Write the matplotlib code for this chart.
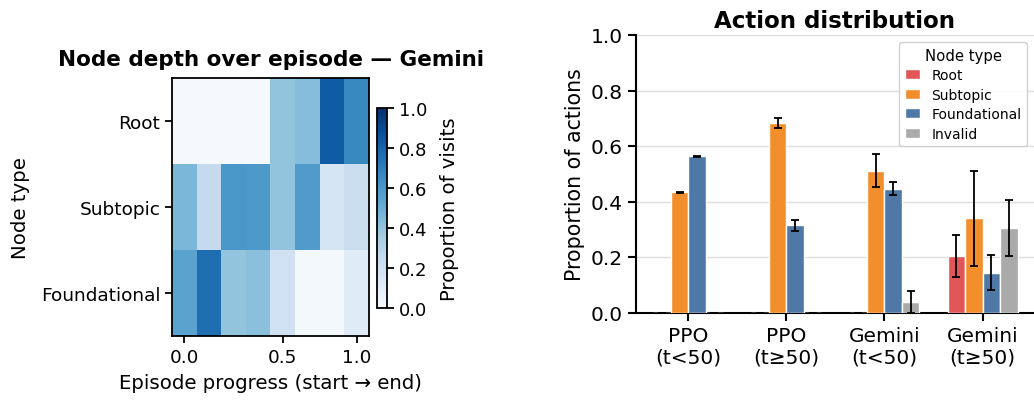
import numpy as np
import matplotlib
matplotlib.use("Agg")
from matplotlib import pyplot as plt

# heatmap data: share of visits per node type in each episode bin
node_types = ["Root", "Subtopic", "Foundational"]
root_row = [0.01, 0.01, 0.01, 0.01, 0.40, 0.43, 0.83, 0.66]
subtopic_row = [0.46, 0.25, 0.60, 0.59, 0.40, 0.58, 0.17, 0.22]
foundational_row = [0.55, 0.76, 0.40, 0.42, 0.20, 0.02, 0.02, 0.12]
progress_labels = ["0.0", "0.5", "1.0"]

# action distribution data
groups = ["PPO\n(t<50)", "PPO\n(t≥50)", "Gemini\n(t<50)", "Gemini\n(t≥50)"]
series = ["Root", "Subtopic", "Foundational", "Invalid"]
root_mean = [0.0, 0.0, 0.0, 0.204]
root_err = [0.0, 0.0, 0.0, 0.076]
subtopic_mean = [0.434, 0.683, 0.511, 0.339]
subtopic_err = [0.002, 0.019, 0.059, 0.170]
found_mean = [0.563, 0.314, 0.446, 0.144]
found_err = [0.002, 0.019, 0.023, 0.064]
invalid_mean = [0.0, 0.0, 0.038, 0.305]
invalid_err = [0.0, 0.0, 0.040, 0.100]

colors = ["#e15759", "#f28e2b", "#4e79a7", "#aaaaaa"]

W, H = 1034, 402
fig = plt.figure(figsize=(W / 100, H / 100), dpi=100)

# ---- left: heatmap
ax1 = fig.add_axes([172 / W, (H - 337) / H, 197 / W, 258 / H])
heat = np.array([root_row, subtopic_row, foundational_row])
im = ax1.imshow(heat, cmap="Blues", vmin=0, vmax=1, aspect="auto")
ax1.set_xticks([0, 4, 7])
ax1.set_xticklabels(progress_labels, fontsize=13.3)
ax1.set_yticks(range(len(node_types)))
ax1.set_yticklabels(node_types, fontsize=13.3)
ax1.set_xlabel("Episode progress (start → end)", fontsize=14.2, labelpad=5)
ax1.set_ylabel("Node type", fontsize=14.2, labelpad=8)
ax1.set_title("Node depth over episode — Gemini", fontsize=15.5, fontweight="bold", pad=9)
for s in ax1.spines.values():
    s.set_linewidth(1.3)
ax1.tick_params(width=1.3, length=5)

cax = fig.add_axes([377 / W, (H - 309) / H, 10 / W, 200 / H])
cb = fig.colorbar(im, cax=cax)
cb.set_ticks([0, 0.2, 0.4, 0.6, 0.8, 1.0])
cb.ax.tick_params(labelsize=13, width=1.3, length=5)
cb.outline.set_linewidth(1.3)
cb.set_label("Proportion of visits", fontsize=14.1, labelpad=9)

# ---- right: grouped bars
ax2 = fig.add_axes([636 / W, (H - 313.5) / H, 398 / W, 277.5 / H])
x = np.arange(len(groups))
w = 0.178
means = [root_mean, subtopic_mean, found_mean, invalid_mean]
errs = [root_err, subtopic_err, found_err, invalid_err]
for i, (m, e) in enumerate(zip(means, errs)):
    ax2.bar(x + (i - 1.5) * w, m, w, yerr=e, color=colors[i], label=series[i],
            edgecolor="white", linewidth=1.0, capsize=3,
            error_kw=dict(elinewidth=1.3, capthick=1.3, ecolor="black"), zorder=3)
ax2.set_ylim(0, 1.0)
ax2.set_xlim(-0.533, 3.524)
ax2.set_xticks(x)
ax2.set_xticklabels(groups, fontsize=14.5)
ax2.set_yticks([0, 0.2, 0.4, 0.6, 0.8, 1.0])
ax2.set_yticklabels(["0.0", "0.2", "0.4", "0.6", "0.8", "1.0"], fontsize=14.5)
ax2.set_ylabel("Proportion of actions", fontsize=14.8)
ax2.set_title("Action distribution", fontsize=16.6, fontweight="bold", pad=6)
ax2.yaxis.grid(True, color="#dddddd", linewidth=1.0, zorder=0)
ax2.set_axisbelow(True)
ax2.spines["top"].set_visible(False)
ax2.spines["right"].set_visible(False)
ax2.spines["left"].set_linewidth(1.5)
ax2.spines["bottom"].set_linewidth(1.5)
ax2.tick_params(width=1.5, length=6)
leg = ax2.legend(title="Node type", fontsize=10, title_fontsize=10.7, loc="upper right",
                 framealpha=0.9, handlelength=1.1, handleheight=0.75, labelspacing=0.4)
leg.get_frame().set_edgecolor("#cccccc")

fig.savefig("out.png", dpi=100)
